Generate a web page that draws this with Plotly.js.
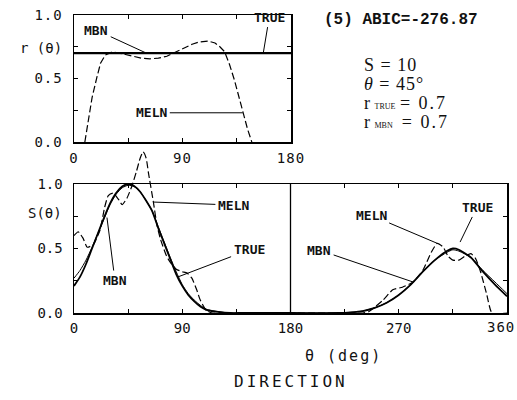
<!DOCTYPE html>
<html>
<head>
<meta charset="utf-8">
<script src="https://cdn.plot.ly/plotly-3.0.1.min.js"></script>
<style>
  html, body { margin: 0; padding: 0; background: #fff; }
  #chart { width: 517px; height: 400px; }
  .xtick text, .ytick text { letter-spacing: 1px; }
</style>
</head>
<body>
<div id="chart"></div>
<script>
// ---- Top panel: r(theta) ----
const thetaTopLine = [0, 180];
const rTrueTop = [0.7, 0.7];
const rMbnTop = [0.7, 0.7];
const thetaMelnTop = [9, 12, 15, 19, 22, 26, 32, 40, 49, 56, 63, 70, 77, 85, 92, 98, 104, 111, 117, 121, 125, 129, 133, 137, 140, 144, 147.5];
const rMelnTop = [0, 0.18, 0.35, 0.51, 0.62, 0.685, 0.71, 0.695, 0.675, 0.66, 0.655, 0.66, 0.675, 0.71, 0.745, 0.77, 0.788, 0.795, 0.78, 0.75, 0.71, 0.61, 0.49, 0.35, 0.25, 0.10, 0];

// ---- Bottom panel: S(theta) ----
const thetaTrue = [0,5,10,15,20,25,30,35,40,45,50,55,60,65,70,75,80,85,90,95,100,105,110,120,130,140,180,220,230,240,250,260,270,280,290,300,310,315,320,330,340,350,360];
const sTrue =     [0.21,0.28,0.38,0.50,0.62,0.74,0.85,0.93,0.98,1.0,0.985,0.94,0.87,0.79,0.66,0.54,0.42,0.30,0.21,0.14,0.09,0.05,0.025,0.008,0,0,0,0,0.005,0.015,0.04,0.08,0.14,0.22,0.32,0.41,0.48,0.50,0.49,0.43,0.32,0.22,0.13];
const thetaMbn = [0,5,10,15,20,25,30,35,40,45,50,55,60,65,70,75,80,85,90,95,100,105,110,120,130,140,180,220,230,240,250,260,270,280,290,300,310,315,320,330,340,350,360];
const sMbn =     [0.27,0.33,0.41,0.51,0.62,0.73,0.84,0.92,0.97,0.99,0.98,0.94,0.87,0.79,0.67,0.55,0.43,0.32,0.22,0.15,0.10,0.06,0.03,0.01,0,0,0,0,0.005,0.015,0.04,0.08,0.14,0.22,0.32,0.41,0.47,0.49,0.48,0.43,0.33,0.24,0.15];
const thetaMeln = [0,3.5,7.5,11,16,21.5,25.5,28.5,32.5,37,40,44,48,52,55,57.5,60,62,66,69,72,77,81,85,90,94,98,102,105,110,115,180,240,245,257,265,273,282,290,297,302,307,311,315,320,325,330,334,338,343,347.5,360];
const sMeln =     [0.60,0.63,0.58,0.51,0.53,0.64,0.82,0.91,0.93,0.88,0.84,0.89,0.98,1.10,1.20,1.25,1.20,1.08,0.86,0.68,0.57,0.44,0.38,0.34,0.32,0.31,0.27,0.18,0.10,0.02,0,0,0,0.01,0.10,0.18,0.20,0.24,0.33,0.47,0.54,0.51,0.44,0.41,0.41,0.44,0.46,0.42,0.32,0.15,0,0];

// ---- Tick labels ----
const topXTicks = [0, 45, 90, 135, 180];
const topXLabels = ['0', '', '90', '', '180'];
const botXTicks = [0, 45, 90, 135, 180, 225, 270, 315, 360];
const botXLabels = ['0', '', '90', '', '180', '', '270', '', ''];
const botXLastLabel = '360';
const yTicks = [0, 0.25, 0.5, 0.75, 1.0];
const yLabels = ['0.0', '', '0.5', '', '1.0'];

const W = 517, H = 400;
const px = v => v / W;
const py = v => 1 - v / H;

const tickFont = {family: 'DejaVu Sans Mono', size: 14, color: '#111'};
const lblFont = {family: 'DejaVu Sans Mono', size: 13, color: '#111', weight: 'bold'};
const serifFont = {family: 'Liberation Serif', size: 18, color: '#111'};

const traces = [
  {x: thetaTopLine, y: rMbnTop, xaxis: 'x', yaxis: 'y', mode: 'lines', line: {color: '#000', width: 1}},
  {x: thetaTopLine, y: rTrueTop, xaxis: 'x', yaxis: 'y', mode: 'lines', line: {color: '#000', width: 2.4}},
  {x: thetaMelnTop, y: rMelnTop, xaxis: 'x', yaxis: 'y', mode: 'lines', line: {color: '#000', width: 1.2, dash: '7px,3px'}},
  {x: thetaTrue, y: sTrue, xaxis: 'x2', yaxis: 'y2', mode: 'lines', line: {color: '#000', width: 1.8, shape: 'spline', smoothing: 0.6}},
  {x: thetaMbn, y: sMbn, xaxis: 'x2', yaxis: 'y2', mode: 'lines', line: {color: '#000', width: 1, shape: 'spline', smoothing: 0.6}},
  {x: thetaMeln, y: sMeln, xaxis: 'x2', yaxis: 'y3', mode: 'lines', line: {color: '#000', width: 1.2, dash: '7px,3px', shape: 'spline', smoothing: 0.5}}
];

const axCommon = {
  showgrid: false, zeroline: false, showline: true, linecolor: '#000', linewidth: 1.5,
  ticks: 'inside', ticklen: 4, tickwidth: 1, tickcolor: '#000', mirror: 'ticks',
  tickfont: tickFont, fixedrange: true, ticklabeloverflow: 'allow'
};

function lineLabel(text, xref, yref, x, y, ax, ay) {
  return {text: text, xref: xref, yref: yref, x: x, y: y, ax: ax, ay: ay,
    showarrow: true, arrowhead: 0, arrowwidth: 1, arrowcolor: '#000',
    font: lblFont, standoff: 0, startstandoff: 1};
}

const annotations = [
  lineLabel('MBN', 'x', 'y', 60, 0.7, -50, -23),
  lineLabel('TRUE', 'x', 'y', 157, 0.7, 6, -36),
  lineLabel('MELN', 'x', 'y', 140, 0.23, -91, 0),
  lineLabel('MELN', 'x2', 'y2', 66, 0.86, 80, 3),
  lineLabel('TRUE', 'x2', 'y2', 86.5, 0.28, 71, -27),
  lineLabel('MBN', 'x2', 'y2', 27.4, 0.74, 8, 63),
  lineLabel('MBN', 'x2', 'y2', 282, 0.24, -94, -32),
  lineLabel('MELN', 'x2', 'y2', 302, 0.54, -66, -28),
  lineLabel('TRUE', 'x2', 'y2', 321, 0.55, 17, -35),
  {text: '<span style="letter-spacing:1px">' + botXLastLabel + '</span>', xref: 'paper', yref: 'paper', x: px(517), y: py(327), xanchor: 'right', yanchor: 'middle', showarrow: false, font: tickFont},
  {text: 'r (θ)', xref: 'paper', yref: 'paper', x: px(64), y: py(48), xanchor: 'right', yanchor: 'middle', showarrow: false, font: tickFont},
  {text: 'S(θ)', xref: 'paper', yref: 'paper', x: px(64), y: py(213), xanchor: 'right', yanchor: 'middle', showarrow: false, font: tickFont},
  {text: '(5) ABIC=-276.87', xref: 'paper', yref: 'paper', x: px(322), y: py(20), xanchor: 'left', yanchor: 'middle', showarrow: false,
    font: {family: 'Liberation Mono', size: 16, color: '#111', weight: 'bold'}},
  {text: '<span style="letter-spacing:1px">S = 10</span>', xref: 'paper', yref: 'paper', x: px(362), y: py(65), xanchor: 'left', yanchor: 'middle', showarrow: false, font: serifFont},
  {text: '<span style="letter-spacing:1px"><i>θ</i> = 45°</span>', xref: 'paper', yref: 'paper', x: px(362), y: py(84), xanchor: 'left', yanchor: 'middle', showarrow: false, font: serifFont},
  {text: 'r <span style="font-size:8px">TRUE</span> <span style="letter-spacing:2px">= 0.7</span>', xref: 'paper', yref: 'paper', x: px(362), y: py(103), xanchor: 'left', yanchor: 'middle', showarrow: false, font: serifFont},
  {text: 'r <span style="font-size:8px">MBN</span>  <span style="letter-spacing:2px">= 0.7</span>', xref: 'paper', yref: 'paper', x: px(362), y: py(122), xanchor: 'left', yanchor: 'middle', showarrow: false, font: serifFont},
  {text: '<span style="letter-spacing:2px">θ (deg)</span>', xref: 'paper', yref: 'paper', x: px(343), y: py(356), xanchor: 'center', yanchor: 'middle', showarrow: false,
    font: {family: 'DejaVu Sans Mono', size: 15, color: '#111'}},
  {text: '<span style="letter-spacing:3px">DIRECTION</span>', xref: 'paper', yref: 'paper', x: px(291), y: py(381), xanchor: 'center', yanchor: 'middle', showarrow: false,
    font: {family: 'DejaVu Sans Mono', size: 16, color: '#111'}}
];

const layout = {
  width: W, height: H,
  margin: {l: 0, r: 0, t: 0, b: 0, pad: 0},
  paper_bgcolor: '#fff', plot_bgcolor: 'rgba(0,0,0,0)',
  showlegend: false,
  xaxis: Object.assign({}, axCommon, {domain: [px(74), px(291)], range: [0, 180], anchor: 'y',
    tickmode: 'array', tickvals: topXTicks, ticktext: topXLabels, ticklabelstandoff: 3}),
  yaxis: Object.assign({}, axCommon, {domain: [py(142), py(15)], range: [0, 1], anchor: 'x',
    tickmode: 'array', tickvals: yTicks, ticktext: yLabels, ticklabelstandoff: 7}),
  xaxis2: Object.assign({}, axCommon, {domain: [px(74), px(507)], range: [0, 360], anchor: 'y2',
    tickmode: 'array', tickvals: botXTicks, ticktext: botXLabels, ticklabelstandoff: 2}),
  yaxis2: Object.assign({}, axCommon, {domain: [py(313), py(184)], range: [0, 1], anchor: 'x2',
    tickmode: 'array', tickvals: yTicks, ticktext: yLabels, ticklabelstandoff: 7}),
  yaxis3: {domain: [py(313), py(313 - 1.3 * 129)], range: [0, 1.3], anchor: 'x2', visible: false, fixedrange: true},
  shapes: [
    {type: 'line', xref: 'x2', yref: 'y2 domain', x0: 180, x1: 180, y0: 0, y1: 1, line: {color: '#000', width: 1.3}}
  ],
  annotations: annotations
};

Plotly.newPlot('chart', traces, layout, {staticPlot: true, displayModeBar: false});
</script>
</body>
</html>
